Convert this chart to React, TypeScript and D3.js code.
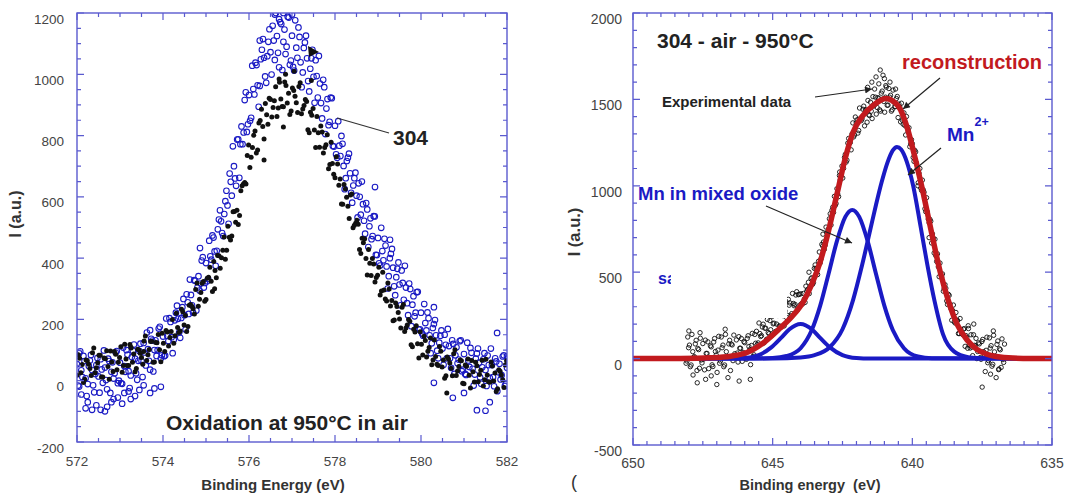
import React from 'react';
import * as d3 from 'd3';

type P = [number, number];

// ---------- Left panel (Binding Energy 572-582 eV) ----------
const leftXTicks = [572, 574, 576, 578, 580, 582];
const leftYTicks = [-200, 0, 200, 400, 600, 800, 1000, 1200];

// blue open circles (scan A)
const blue304: P[] = [
[572.00,54],[572.05,-19],[572.10,34],[572.15,81],[572.20,8],[572.25,-11],[572.30,66],[572.35,35],[572.40,-38],[572.45,51],
[572.50,14],[572.55,70],[572.60,-7],[572.65,43],[572.70,-28],[572.75,64],[572.80,29],[572.85,7],[572.90,92],[572.95,-8],
[573.00,59],[573.05,-10],[573.10,48],[573.15,100],[573.20,31],[573.25,17],[573.30,98],[573.35,72],[573.40,3],[573.45,97],
[573.50,64],[573.55,123],[573.60,50],[573.65,103],[573.70,36],[573.75,131],[573.80,100],[573.85,81],[573.90,170],[573.95,73],
[574.00,144],[574.05,82],[574.10,146],[574.15,204],[574.20,142],[574.25,134],[574.30,222],[574.35,202],[574.40,140],[574.45,240],
[574.50,214],[574.55,282],[574.60,218],[574.65,280],[574.70,222],[574.75,326],[574.80,304],[574.85,294],[574.90,392],[574.95,304],
[575.00,384],[575.05,332],[575.10,406],[575.15,474],[575.20,422],[575.25,424],[575.30,526],[575.35,520],[575.40,472],[575.45,586],
[575.50,572],[575.55,676],[575.60,604],[575.65,700],[575.70,636],[575.75,788],[575.80,772],[575.85,772],[575.90,916],[575.95,812],
[576.00,932],[576.05,858],[576.10,952],[576.15,1038],[576.20,964],[576.25,962],[576.30,1080],[576.35,1054],[576.40,972],[576.45,1106],
[576.50,1072],[576.55,1158],[576.60,1047],[576.65,1125],[576.70,1023],[576.75,1164],[576.80,1106],[576.85,1066],[576.90,1188],[576.95,1031],
[577.00,1126],[577.05,1012],[577.10,1087],[577.15,1153],[577.20,1039],[577.25,1006],[577.30,1104],[577.35,1052],[577.40,944],[577.45,1052],
[577.50,992],[577.55,1046],[577.60,924],[577.65,970],[577.70,856],[577.75,958],[577.80,888],[577.85,834],[577.90,924],[577.95,766],
[578.00,832],[578.05,728],[578.10,767],[578.15,799],[578.20,701],[578.25,661],[578.30,728],[578.35,677],[578.40,581],[578.45,661],
[578.50,604],[578.55,644],[578.60,542],[578.65,576],[578.70,480],[578.75,559],[578.80,504],[578.85,462],[578.90,537],[578.95,411],
[579.00,466],[579.05,376],[579.10,423],[579.15,463],[579.20,373],[579.25,341],[579.30,414],[579.35,369],[579.40,279],[579.45,365],
[579.50,314],[579.55,360],[579.60,264],[579.65,304],[579.70,214],[579.75,299],[579.80,248],[579.85,210],[579.90,289],[579.95,167],
[580.00,222],[580.05,147],[580.10,188],[580.15,223],[580.20,148],[580.25,122],[580.30,185],[580.35,148],[580.40,73],[580.45,147],
[580.50,105],[580.55,150],[580.60,73],[580.65,113],[580.70,42],[580.75,120],[580.80,83],[580.85,57],[580.90,129],[580.95,31],
[581.00,87],[581.05,19],[581.10,66],[581.15,107],[581.20,39],[581.25,20],[581.30,89],[581.35,59],[581.40,-10],[581.45,70],
[581.50,35],[581.55,82],[581.60,9],[581.65,51],[581.70,-18],[581.75,63],[581.80,28],[581.85,4],[581.90,79],[581.95,-17],
[582.00,42],
[572.10,-45],[572.20,-90],[572.25,-70],[572.35,-95],[572.45,-80],[572.55,-95],[572.65,-100],[572.70,-85],[572.80,-70],[572.85,-60],
[572.95,-55],[573.05,-75],[573.10,-40],[573.20,-35],[573.25,-60],[573.35,-50],[573.45,-30],[573.55,-15],[573.70,-40],[573.80,-25],
[573.95,-20],[573.70,165],[572.05,90],[574.86,433],[576.25,1110],[576.60,1195],[576.80,1200],[577.00,1195],[576.70,1180],[578.93,632],
[579.28,460],[580.30,240],[581.77,156],[581.30,-96],[581.50,-98],[580.74,-56],[580.30,-7],[581.00,-40],[582.00,80],[581.60,-70],
];

// blue open circles (scan B)
const blue304B: P[] = [
[572.025,-16],[572.075,96],[572.125,12],[572.175,64],[572.225,-50],[572.275,48],[572.325,84],[572.375,-15],[572.425,22],[572.475,74],
[572.525,-39],[572.575,37],[572.625,99],[572.675,2],[572.725,72],[572.775,-40],[572.825,60],[572.875,24],[572.925,97],[572.975,0],
[573.025,-8],[573.075,108],[573.125,29],[573.175,85],[573.225,-24],[573.275,77],[573.325,118],[573.375,24],[573.425,65],[573.475,121],
[573.525,12],[573.575,92],[573.625,157],[573.675,65],[573.725,137],[573.775,30],[573.825,132],[573.875,100],[573.925,176],[573.975,83],
[574.025,80],[574.075,203],[574.125,130],[574.175,192],[574.225,90],[574.275,197],[574.325,245],[574.375,157],[574.425,205],[574.475,267],
[574.525,167],[574.575,256],[574.625,330],[574.675,246],[574.725,328],[574.775,229],[574.825,341],[574.875,317],[574.925,403],[574.975,319],
[575.025,325],[575.075,457],[575.125,395],[575.175,467],[575.225,375],[575.275,494],[575.325,556],[575.375,482],[575.425,544],[575.475,620],
[575.525,512],[575.575,649],[575.625,765],[575.675,660],[575.725,787],[575.775,662],[575.825,830],[575.875,810],[575.925,941],[575.975,837],
[576.025,848],[576.075,1028],[576.125,934],[576.175,1030],[576.225,894],[576.275,1049],[576.325,1115],[576.375,993],[576.425,1059],[576.475,1147],
[576.525,999],[576.575,1110],[576.625,1200],[576.675,1070],[576.725,1170],[576.775,1014],[576.825,1146],[576.875,1090],[576.925,1185],[576.975,1045],
[577.025,1024],[577.075,1176],[577.125,1054],[577.175,1122],[577.225,958],[577.275,1086],[577.325,1126],[577.375,978],[577.425,1018],[577.475,1080],
[577.525,907],[577.575,994],[577.625,1060],[577.675,906],[577.725,982],[577.775,805],[577.825,919],[577.875,845],[577.925,922],[577.975,764],
[578.025,739],[578.075,847],[578.125,733],[578.175,773],[578.225,625],[578.275,717],[578.325,741],[578.375,613],[578.425,637],[578.475,679],
[578.525,533],[578.575,600],[578.625,650],[578.675,522],[578.725,580],[578.775,436],[578.825,530],[578.875,472],[578.925,536],[578.975,410],
[579.025,383],[579.075,499],[579.125,393],[579.175,441],[579.225,301],[579.275,400],[579.325,430],[579.375,308],[579.425,338],[579.475,386],
[579.525,246],[579.575,319],[579.625,375],[579.675,253],[579.725,317],[579.775,178],[579.825,276],[579.875,222],[579.925,290],[579.975,168],
[580.025,154],[580.075,250],[580.125,164],[580.175,204],[580.225,90],[580.275,172],[580.325,198],[580.375,98],[580.425,124],[580.475,164],
[580.525,52],[580.575,117],[580.625,169],[580.675,73],[580.725,132],[580.775,22],[580.825,109],[580.875,69],[580.925,132],[580.975,36],
[581.025,22],[581.075,124],[581.125,45],[581.175,91],[581.225,-16],[581.275,72],[581.325,105],[581.375,11],[581.425,44],[581.475,90],
[581.525,-17],[581.575,51],[581.625,105],[581.675,12],[581.725,73],[581.775,-34],[581.825,55],[581.875,18],[581.925,83],[581.975,-11],
];

// black filled dots (scan A)
const black304: P[] = [
[572.00,18],[572.06,73],[572.12,53],[572.18,5],[572.24,65],[572.30,40],[572.36,91],[572.42,26],[572.48,59],[572.54,83],
[572.60,12],[572.66,72],[572.72,46],[572.78,97],[572.84,30],[572.90,86],[572.96,60],[573.02,111],[573.08,50],[573.14,71],
[573.20,50],[573.26,107],[573.32,87],[573.38,40],[573.44,101],[573.50,76],[573.56,130],[573.62,66],[573.68,102],[573.74,129],
[573.80,61],[573.86,124],[573.92,101],[573.98,155],[574.04,95],[574.10,159],[574.16,141],[574.22,200],[574.28,147],[574.34,174],
[574.40,162],[574.46,225],[574.52,213],[574.58,177],[574.64,249],[574.70,235],[574.76,298],[574.82,243],[574.88,288],[574.94,324],
[575.00,265],[575.06,338],[575.12,325],[575.18,389],[575.24,336],[575.30,408],[575.36,401],[575.42,469],[575.48,426],[575.54,468],
[575.60,472],[575.66,552],[575.72,556],[575.78,539],[575.84,636],[575.90,647],[575.96,735],[576.02,696],[576.08,761],[576.14,815],
[576.20,753],[576.26,849],[576.32,830],[576.38,905],[576.44,837],[576.50,918],[576.56,892],[576.62,959],[576.68,890],[576.74,919],
[576.80,894],[576.86,963],[576.92,938],[576.98,880],[577.04,947],[577.10,907],[577.16,960],[577.22,871],[577.28,898],[577.34,911],
[577.40,809],[577.46,866],[577.52,818],[577.58,862],[577.64,762],[577.70,812],[577.76,761],[577.82,803],[577.88,706],[577.94,709],
[578.00,662],[578.06,707],[578.12,658],[578.18,576],[578.24,626],[578.30,569],[578.36,606],[578.42,499],[578.48,514],[578.54,511],
[578.60,415],[578.66,450],[578.72,399],[578.78,428],[578.84,343],[578.90,381],[578.96,337],[579.02,370],[579.08,293],[579.14,296],
[579.20,260],[579.26,299],[579.32,262],[579.38,198],[579.44,242],[579.50,201],[579.56,240],[579.62,161],[579.68,182],[579.74,194],
[579.80,111],[579.86,159],[579.92,121],[579.98,160],[580.04,84],[580.10,131],[580.16,96],[580.22,139],[580.28,68],[580.34,79],
[580.40,50],[580.46,96],[580.52,68],[580.58,16],[580.64,71],[580.70,41],[580.76,88],[580.82,17],[580.88,46],[580.94,65],
[581.00,-10],[581.06,47],[581.12,18],[581.18,66],[581.24,-4],[581.30,49],[581.36,20],[581.42,67],[581.48,3],[581.54,19],
[581.60,-5],[581.66,48],[581.72,25],[581.78,-26],[581.84,31],[581.90,3],[581.96,51],
[576.85,1000],[577.05,1010],[576.70,985],[576.35,720],[576.80,828],[580.60,-40],[577.45,980],[575.20,300],[573.25,110],[573.55,95],
];

// black filled dots (scan B)
const black304B: P[] = [
[572.03,85],[572.09,26],[572.15,-6],[572.21,68],[572.27,54],[572.33,17],[572.39,107],[572.45,42],[572.51,83],[572.57,12],
[572.63,74],[572.69,98],[572.75,5],[572.81,61],[572.87,95],[572.93,36],[572.99,76],[573.05,28],[573.11,119],[573.17,50],
[573.23,118],[573.29,60],[573.35,29],[573.41,103],[573.47,90],[573.53,54],[573.59,146],[573.65,85],[573.71,128],[573.77,60],
[573.83,125],[573.89,151],[573.95,62],[574.01,122],[574.07,164],[574.13,113],[574.19,161],[574.25,122],[574.31,220],[574.37,157],
[574.43,233],[574.49,182],[574.55,161],[574.61,246],[574.67,243],[574.73,218],[574.79,319],[574.85,266],[574.91,318],[574.97,259],
[575.03,334],[575.09,370],[575.15,291],[575.21,360],[575.27,409],[575.33,367],[575.39,426],[575.45,396],[575.51,504],[575.57,459],
[575.63,551],[575.69,517],[575.75,510],[575.81,620],[575.87,642],[575.93,642],[575.99,769],[576.05,729],[576.11,801],[576.17,743],
[576.23,841],[576.29,886],[576.35,789],[576.41,868],[576.47,922],[576.53,861],[576.59,914],[576.65,862],[576.71,974],[576.77,895],
[576.83,975],[576.89,906],[576.95,869],[577.01,955],[577.07,928],[577.13,875],[577.19,972],[577.25,887],[577.31,918],[577.37,819],
[577.43,876],[577.49,888],[577.55,761],[577.61,809],[577.67,831],[577.73,743],[577.79,770],[577.85,692],[577.91,778],[577.97,674],
[578.03,731],[578.09,638],[578.15,577],[578.21,640],[578.27,599],[578.33,529],[578.39,609],[578.45,507],[578.51,524],[578.57,428],
[578.63,465],[578.69,463],[578.75,345],[578.81,383],[578.87,399],[578.93,322],[578.99,344],[579.05,280],[579.11,354],[579.17,267],
[579.23,319],[579.29,244],[579.35,196],[579.41,254],[579.47,223],[579.53,172],[579.59,249],[579.65,172],[579.71,200],[579.77,117],
[579.83,168],[579.89,179],[579.95,74],[580.01,119],[580.07,145],[580.13,77],[580.19,108],[580.25,52],[580.31,133],[580.37,54],
[580.43,112],[580.49,45],[580.55,8],[580.61,77],[580.67,58],[580.73,16],[580.79,101],[580.85,32],[580.91,68],[580.97,-8],
[581.03,51],[581.09,71],[581.15,-24],[581.21,29],[581.27,60],[581.33,-3],[581.39,34],[581.45,-17],[581.51,70],[581.57,-3],
[581.63,61],[581.69,-1],[581.75,-35],[581.81,36],[581.87,19],[581.93,-22],[581.99,65],
];

// ---------- Right panel: 304 - air - 950°C (Binding energy 650-635 eV) ----------
const rightXTicks = [650, 645, 640, 635];
const rightYTicks = [-500, 0, 500, 1000, 1500, 2000];

const experimental: P[] = [
[636.70,84],[636.76,-6],[636.82,-51],[636.88,57],[636.94,102],[637.00,12],[637.06,39],[637.12,-33],[637.18,75],[637.24,120],
[637.30,-24],[637.36,48],[637.42,21],[637.48,111],[637.54,-4],[637.60,85],[637.66,41],[637.72,117],[637.78,77],[637.84,17],
[637.90,138],[637.96,78],[638.02,60],[638.08,133],[638.14,173],[638.20,139],[638.26,169],[638.32,145],[638.38,220],[638.44,267],
[638.50,213],[638.56,279],[638.62,290],[638.68,366],[638.74,313],[638.80,407],[638.86,406],[638.92,490],[638.98,489],[639.04,474],
[639.10,606],[639.16,595],[639.22,611],[639.28,722],[639.34,795],[639.40,786],[639.46,849],[639.52,850],[639.58,963],[639.64,1033],
[639.70,987],[639.76,1073],[639.82,1099],[639.88,1196],[639.94,1141],[640.00,1244],[640.06,1243],[640.12,1336],[640.18,1334],[640.24,1294],
[640.30,1422],[640.36,1380],[640.42,1370],[640.48,1473],[640.54,1517],[640.60,1458],[640.66,1484],[640.72,1440],[640.78,1524],[640.84,1563],
[640.90,1466],[640.96,1513],[641.02,1488],[641.08,1548],[641.14,1432],[641.20,1504],[641.26,1453],[641.32,1513],[641.38,1462],[641.44,1389],
[641.50,1484],[641.56,1410],[641.62,1368],[641.68,1438],[641.74,1461],[641.80,1387],[641.86,1390],[641.92,1320],[641.98,1382],[642.04,1398],
[642.10,1283],[642.16,1300],[642.22,1250],[642.28,1274],[642.34,1148],[642.40,1182],[642.46,1101],[642.52,1114],[642.58,1034],[642.64,937],
[642.70,983],[642.76,886],[642.82,846],[642.88,858],[642.94,838],[643.00,751],[643.06,729],[643.12,656],[643.18,675],[643.24,661],
[643.30,553],[643.36,563],[643.42,524],[643.48,542],[643.54,440],[643.60,468],[643.66,416],[643.72,442],[643.78,390],[643.84,325],
[643.90,377],[643.96,319],[644.02,310],[644.08,370],[644.14,387],[644.20,314],[644.26,319],[644.32,260],[644.38,322],[644.44,343],
[644.50,237],[644.56,276],[644.62,248],[644.68,299],[644.74,187],[644.80,250],[644.86,200],[644.92,251],[644.98,201],[645.04,132],
[645.10,220],[645.16,151],[645.22,112],[645.28,176],[645.34,199],[645.40,133],[645.46,145],[645.52,91],[645.58,158],[645.64,140],
[645.70,12],[645.76,76],[645.82,52],[645.88,132],[645.94,-4],[646.00,92],[646.06,36],[646.12,116],[646.18,60],[646.24,-20],
[646.30,108],[646.36,28],[646.42,-12],[646.48,84],[646.54,106],[646.60,11],[646.66,40],[646.72,-37],[646.78,78],[646.84,125],
[646.90,-27],[646.96,49],[647.02,21],[647.08,116],[647.14,-46],[647.20,68],[647.26,2],[647.32,97],[647.38,30],[647.44,-65],
[647.50,87],[647.56,-8],[647.62,-56],[647.68,59],[647.74,106],[647.80,11],[647.86,40],[647.92,-37],[647.98,78],[648.04,125],
[648.10,-27],
[647.70,-140],[647.40,-120],[647.00,-150],[646.60,-110],[646.20,-130],[645.80,-120],[647.85,-95],[647.20,-100],[637.50,-165],[637.20,-90],
[637.00,-110],[636.90,-60],[641.15,1670],[641.00,1620],[641.30,1630],[640.80,1600],[641.60,1570],[641.45,1600],[640.60,1560],[641.20,1590],
[640.95,1580],[641.35,1560],[641.05,1640],[645.40,250],[645.20,280],[644.90,300],[638.00,190],[637.80,200],[637.10,160],[643.70,500],
[643.20,720],[642.60,1080],[639.80,1000],[639.40,700],[647.60,150],[648.00,160],[646.70,170],
];

const experimentalB: P[] = [
[636.73,-22],[636.79,114],[636.85,51],[636.91,-64],[636.97,82],[637.03,9],[637.09,135],[637.15,-44],[637.21,61],[637.27,-12],
[637.33,124],[637.39,-75],[637.45,40],[637.51,99],[637.57,6],[637.63,91],[637.69,0],[637.75,73],[637.81,138],[637.87,67],
[637.93,61],[637.99,174],[638.05,122],[638.11,71],[638.17,171],[638.23,144],[638.29,232],[638.35,145],[638.41,222],[638.47,206],
[638.53,310],[638.59,222],[638.65,314],[638.71,372],[638.77,334],[638.83,428],[638.89,390],[638.95,472],[639.01,553],[639.07,531],
[639.13,562],[639.19,691],[639.25,696],[639.31,669],[639.37,806],[639.43,807],[639.49,931],[639.55,867],[639.61,977],[639.67,973],
[639.73,1100],[639.79,1018],[639.85,1132],[639.91,1205],[639.97,1164],[640.03,1267],[640.09,1226],[640.15,1315],[640.21,1401],[640.27,1349],
[640.33,1357],[640.39,1478],[640.45,1456],[640.51,1395],[640.57,1505],[640.63,1458],[640.69,1554],[640.75,1432],[640.81,1513],[640.87,1467],
[640.93,1571],[640.99,1426],[641.05,1503],[641.11,1536],[641.17,1440],[641.23,1510],[641.29,1415],[641.35,1469],[641.41,1516],[641.47,1432],
[641.53,1407],[641.59,1494],[641.65,1439],[641.71,1347],[641.77,1443],[641.83,1377],[641.89,1450],[641.95,1305],[642.01,1364],[642.07,1294],
[642.13,1364],[642.19,1208],[642.25,1247],[642.31,1247],[642.37,1137],[642.43,1165],[642.49,1045],[642.55,1055],[642.61,1059],[642.67,952],
[642.73,897],[642.79,939],[642.85,876],[642.91,773],[642.97,809],[643.03,731],[643.09,761],[643.15,632],[643.21,651],[643.27,576],
[643.33,617],[643.39,486],[643.45,521],[643.51,522],[643.57,430],[643.63,462],[643.69,376],[643.75,400],[643.81,419],[643.87,344],
[643.93,316],[643.99,375],[644.05,372],[644.11,282],[644.17,368],[644.23,306],[644.29,377],[644.35,248],[644.41,309],[644.47,250],
[644.53,332],[644.59,189],[644.65,257],[644.71,282],[644.77,189],[644.83,250],[644.89,158],[644.95,205],[645.01,245],[645.07,167],
[645.13,144],[645.19,227],[645.25,176],[645.31,91],[645.37,183],[645.43,128],[645.49,206],[645.55,81],[645.61,89],[645.67,22],
[645.73,146],[645.79,-35],[645.85,70],[645.91,117],[645.97,3],[646.03,98],[646.09,-16],[646.15,60],[646.21,127],[646.27,32],
[646.33,13],[646.39,136],[646.45,79],[646.51,-69],[646.57,85],[646.63,8],[646.69,140],[646.75,-47],[646.81,63],[646.87,-14],
[646.93,129],[646.99,-80],[647.05,41],[647.11,96],[647.17,-36],[647.23,74],[647.29,-58],[647.35,30],[647.41,107],[647.47,-3],
[647.53,-25],[647.59,118],[647.65,52],[647.71,-69],[647.77,85],[647.83,8],[647.89,140],[647.95,-47],[648.01,63],[648.07,-14],
];

const reconstruction: P[] = [
[635,0],[636.4,3],[637.0,12],[637.33,25],[637.7,55],[638.04,108],[638.4,200],[638.7,330],[639.0,500],[639.3,720],
[639.6,950],[639.9,1160],[640.19,1340],[640.5,1460],[640.95,1505],[641.4,1465],[641.8,1400],[642.12,1310],[642.4,1160],[642.7,950],
[643.0,740],[643.3,560],[643.6,430],[643.9,330],[644.3,245],[644.74,175],[645.3,95],[645.92,35],[646.5,14],[647.2,5],[648.3,1],[650,0],
];

const mn2Peak: P[] = [
[635,0],[637.5,2],[638.0,8],[638.5,40],[638.9,140],[639.2,330],[639.47,550],[639.7,760],[639.97,1000],[640.2,1140],
[640.4,1210],[640.55,1225],[640.7,1205],[640.9,1130],[641.1,1020],[641.3,890],[641.5,750],[641.8,540],[642.12,340],[642.5,170],
[642.95,67],[643.5,20],[644.0,7],[645,1],[650,0],
];

const mixedOxidePeak: P[] = [
[635,0],[639.3,2],[639.8,12],[640.3,60],[640.7,165],[641.0,305],[641.3,490],[641.6,680],[641.9,820],[642.15,860],
[642.4,820],[642.7,680],[643.0,490],[643.3,305],[643.6,165],[644.0,60],[644.5,15],[645.0,3],[646,0],[650,0],
];

const thirdPeak: P[] = [
[635,0],[641.5,0],[642.0,3],[642.5,20],[642.95,65],[643.3,120],[643.6,170],[644.0,200],[644.4,170],[644.7,120],
[645.05,65],[645.5,20],[646.0,3],[647,0],[650,0],
];

const FONT = '"Liberation Sans", Arial, Helvetica, sans-serif';
const FRAME = '#5a5acf';
const BLUE = '#1a1ac4';
const RED = '#c21a1e';

function T({ x, y, s, w = 400, fill = '#222', anchor = 'start', rot, children }: any) {
  return (
    <text
      x={x}
      y={y}
      fontSize={s}
      fontWeight={w}
      fill={fill}
      textAnchor={anchor}
      dominantBaseline="central"
      fontFamily={FONT}
      style={{ whiteSpace: 'pre' }}
      transform={rot ? `rotate(${rot},${x},${y})` : undefined}
    >
      {children}
    </text>
  );
}

function Frame({ x, y, xMinor, xMajor, yMinor, yMajor }: any) {
  const [x0, x1] = [Math.min(...x.range()), Math.max(...x.range())];
  const [y1, y0] = [Math.min(...y.range()), Math.max(...y.range())];
  const isMaj = (t: number, m: number) => Math.abs(t / m - Math.round(t / m)) < 1e-6;
  const xt: number[] = x.ticks(Math.round(Math.abs(x.domain()[1] - x.domain()[0]) / xMinor));
  const yt: number[] = y.ticks(Math.round(Math.abs(y.domain()[1] - y.domain()[0]) / yMinor));
  const segs: string[] = [];
  xt.forEach((t) => {
    const L = isMaj(t, xMajor) ? 7 : 4;
    const px = x(t);
    segs.push(`M${px},${y0}V${y0 - L}`, `M${px},${y1}V${y1 + L}`);
  });
  yt.forEach((t) => {
    const L = isMaj(t, yMajor) ? 7 : 4;
    const py = y(t);
    segs.push(`M${x0},${py}H${x0 + L}`, `M${x1},${py}H${x1 - L}`);
  });
  return (
    <g>
      <path d={segs.join('')} stroke={FRAME} strokeWidth={1.2} fill="none" />
      <rect x={x0} y={y1} width={x1 - x0} height={y0 - y1} fill="none" stroke={FRAME} strokeWidth={1.4} />
    </g>
  );
}

export default function App() {
  const W = 1073;
  const H = 494;

  const lx = d3.scaleLinear().domain([572, 582]).range([77, 507]);
  const ly = d3.scaleLinear().domain([-200, 1200]).range([442, 13]);
  const rx = d3.scaleLinear().domain([650, 635]).range([633, 1052]);
  const ry = d3.scaleLinear().domain([-500, 2000]).range([445, 13]);

  const rPath = (data: P[]) => {
    const sorted = [...data].sort((a, b) => rx(a[0]) - rx(b[0]));
    return (
      d3
        .line<P>()
        .x((d) => rx(d[0]))
        .y((d) => ry(d[1]))
        .curve(d3.curveMonotoneX)(sorted) || ''
    );
  };

  const blues = [...blue304, ...blue304B];
  const blacks = [...black304, ...black304B];
  const exps = [...experimental, ...experimentalB];

  return (
    <svg width={W} height={H} viewBox={`0 0 ${W} ${H}`} style={{ position: 'absolute', left: 0, top: 0, background: '#fff' }}>
      <defs>
        <clipPath id="clipL">
          <rect x={77} y={13} width={430} height={429} />
        </clipPath>
        <clipPath id="clipR">
          <rect x={633} y={13} width={419} height={432} />
        </clipPath>
        <marker id="ah" viewBox="0 0 10 10" refX="10" refY="5" markerWidth="10" markerHeight="7" orient="auto" markerUnits="userSpaceOnUse">
          <path d="M0,0L10,5L0,10z" fill="#222" />
        </marker>
      </defs>
      <rect x={0} y={0} width={W} height={H} fill="#fff" />

      {/* ---------------- LEFT PANEL ---------------- */}
      <g clipPath="url(#clipL)">
        {blues.map((d, i) => (
          <circle key={'b' + i} cx={lx(d[0])} cy={ly(d[1])} r={2.8} fill="none" stroke={BLUE} strokeWidth={1.1} />
        ))}
        {blacks.map((d, i) => (
          <circle key={'k' + i} cx={lx(d[0])} cy={ly(d[1])} r={2.5} fill="#111" />
        ))}
      </g>
      <Frame x={lx} y={ly} xMinor={0.5} xMajor={2} yMinor={50} yMajor={200} />
      {leftYTicks.map((t) => (
        <T key={'ly' + t} x={64} y={ly(t) + 6} s={13.5} fill="#444" anchor="end">{t}</T>
      ))}
      {leftXTicks.map((t) => (
        <T key={'lx' + t} x={lx(t)} y={461} s={13.5} fill="#444" anchor="middle">{t}</T>
      ))}
      <T x={273} y={484} s={15} w={700} anchor="middle" fill="#333">Binding Energy (eV)</T>
      <T x={15} y={214} s={16} w={700} anchor="middle" fill="#333" rot={-90}>I (a.u.)</T>
      <line x1={337} y1={118} x2={389} y2={133} stroke="#333" strokeWidth={1.2} />
      <polygon points="308,46 319,52 309,57" fill="#111" />
      <T x={393} y={137} s={21} w={700} fill="#222">304</T>
      <T x={166} y={422} s={21} w={700} fill="#222">Oxidation at 950°C in air</T>

      {/* ---------------- RIGHT PANEL ---------------- */}
      <g clipPath="url(#clipR)">
        {exps.map((d, i) => (
          <circle key={'e' + i} cx={rx(d[0])} cy={ry(d[1])} r={2.2} fill="none" stroke="#111" strokeWidth={0.9} />
        ))}
        <path d={rPath(thirdPeak)} fill="none" stroke={BLUE} strokeWidth={4} />
        <path d={rPath(mixedOxidePeak)} fill="none" stroke={BLUE} strokeWidth={4} />
        <path d={rPath(mn2Peak)} fill="none" stroke={BLUE} strokeWidth={4} />
        <path d={rPath(reconstruction)} fill="none" stroke={RED} strokeWidth={5.5} />
      </g>
      <T x={658} y={278} s={16} w={700} fill={BLUE}>sa</T>
      <rect x={671} y={252} width={116} height={66} fill="#fff" />
      <Frame x={rx} y={ry} xMinor={0.5} xMajor={5} yMinor={100} yMajor={500} />
      {rightYTicks.map((t) => (
        <T key={'ry' + t} x={622} y={ry(t) + 6} s={14} fill="#444" anchor="end">{t}</T>
      ))}
      {rightXTicks.map((t) => (
        <T key={'rx' + t} x={rx(t)} y={463} s={14} fill="#444" anchor="middle">{t}</T>
      ))}
      <T x={810} y={485} s={14.5} w={700} anchor="middle" fill="#333">{'Binding energy\u00a0 (eV)'}</T>
      <T x={574} y={232} s={16.5} w={700} anchor="middle" fill="#333" rot={-90}>I (a.u.)</T>

      <T x={657} y={40} s={21} w={700} fill="#222">304 - air - 950°C</T>
      <T x={902} y={62} s={20} w={700} fill={RED}>reconstruction</T>
      <T x={662} y={101} s={15} w={700} fill="#222">Experimental data</T>
      <text x={947} y={141} fontSize={19} fontWeight={700} fill={BLUE} fontFamily={FONT}>
        Mn<tspan dy={-15} fontSize={12.5}>2+</tspan>
      </text>
      <T x={638} y={193} s={18.5} w={700} fill={BLUE}>Mn in mixed oxide</T>

      <line x1={815} y1={97} x2={872} y2={89} stroke="#222" strokeWidth={1.2} markerEnd="url(#ah)" />
      <line x1={940} y1={78} x2={903} y2={109} stroke="#222" strokeWidth={1.2} markerEnd="url(#ah)" />
      <line x1={941} y1={148} x2={908} y2={175} stroke="#222" strokeWidth={1.2} markerEnd="url(#ah)" />
      <line x1={766} y1={206} x2={852} y2={243} stroke="#222" strokeWidth={1.2} markerEnd="url(#ah)" />

      <T x={571} y={482} s={18} fill="#333">(</T>
    </svg>
  );
}
